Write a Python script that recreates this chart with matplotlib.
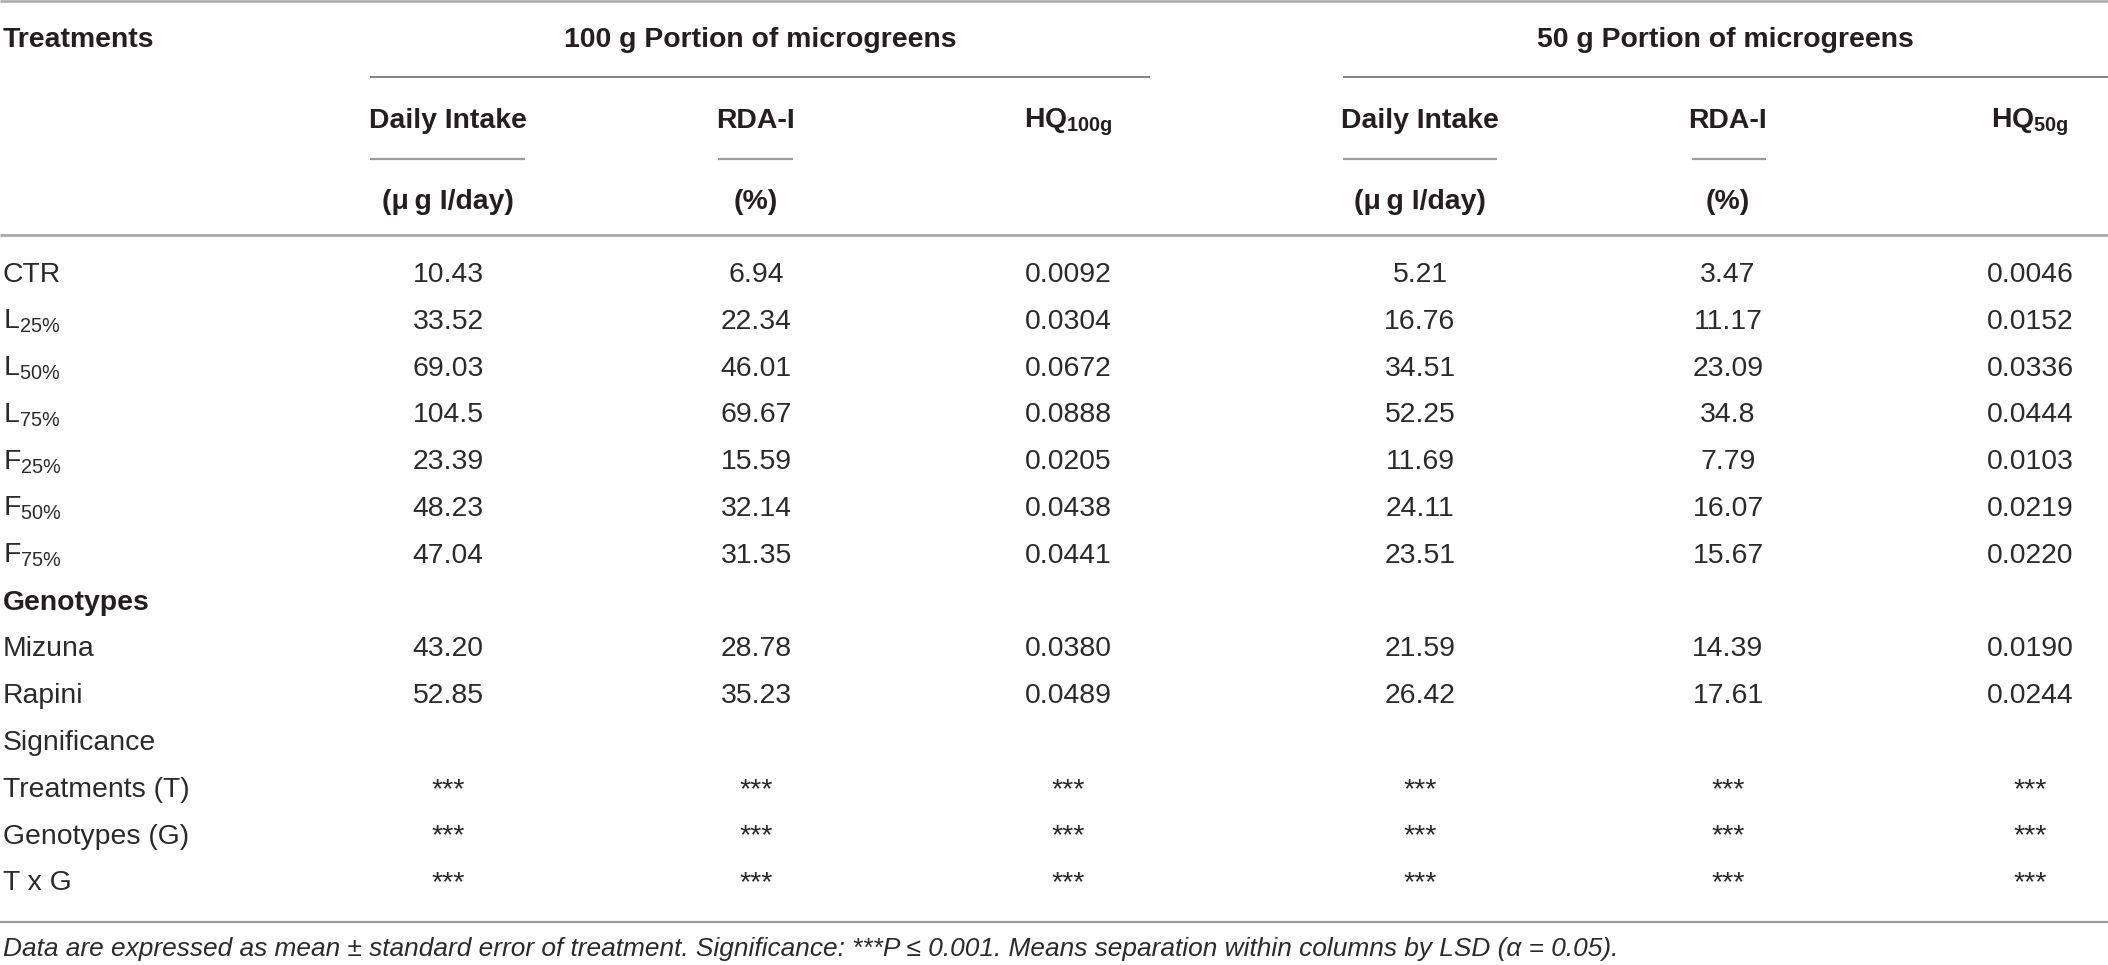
import matplotlib
matplotlib.use("Agg")
import matplotlib.pyplot as plt

plt.rcParams['font.family'] = ['Liberation Sans', 'DejaVu Sans']
plt.rcParams['mathtext.fontset'] = 'custom'
plt.rcParams['mathtext.rm'] = 'Liberation Sans'
plt.rcParams['mathtext.it'] = 'Liberation Sans:italic'
plt.rcParams['mathtext.bf'] = 'Liberation Sans:bold'

# ---------------- data ----------------
group_headers = ["100 g Portion of microgreens", "50 g Portion of microgreens"]
col_headers = ["Daily Intake", "RDA-I", r"HQ$_{\mathbf{100g}}$",
               "Daily Intake", "RDA-I", r"HQ$_{\mathbf{50g}}$"]
unit_headers = ["(\u03bc\u2009g I/day)", "(%)", "", "(\u03bc\u2009g I/day)", "(%)", ""]

treatments = ["CTR", r"L$_{\mathrm{25\%}}$", r"L$_{\mathrm{50\%}}$", r"L$_{\mathrm{75\%}}$",
              r"F$_{\mathrm{25\%}}$", r"F$_{\mathrm{50\%}}$", r"F$_{\mathrm{75\%}}$"]
daily_100 = ["10.43", "33.52", "69.03", "104.5", "23.39", "48.23", "47.04"]
rda_100 = ["6.94", "22.34", "46.01", "69.67", "15.59", "32.14", "31.35"]
hq_100 = ["0.0092", "0.0304", "0.0672", "0.0888", "0.0205", "0.0438", "0.0441"]
daily_50 = ["5.21", "16.76", "34.51", "52.25", "11.69", "24.11", "23.51"]
rda_50 = ["3.47", "11.17", "23.09", "34.8", "7.79", "16.07", "15.67"]
hq_50 = ["0.0046", "0.0152", "0.0336", "0.0444", "0.0103", "0.0219", "0.0220"]

genotypes = ["Mizuna", "Rapini"]
geno_daily_100 = ["43.20", "52.85"]
geno_rda_100 = ["28.78", "35.23"]
geno_hq_100 = ["0.0380", "0.0489"]
geno_daily_50 = ["21.59", "26.42"]
geno_rda_50 = ["14.39", "17.61"]
geno_hq_50 = ["0.0190", "0.0244"]

sig_sources = ["Treatments (T)", "Genotypes (G)", "T x G"]
sig_marks = ["***", "***", "***"]

footnote = ("Data are expressed as mean \u00b1 standard error of treatment. "
            "Significance: ***P \u2264 0.001. Means separation within columns by LSD (\u03b1 = 0.05).")

# ---------------- layout ----------------
W, H = 2108, 965
fig = plt.figure(figsize=(W / 100, H / 100), dpi=100)
ax = fig.add_axes([0, 0, 1, 1])
ax.set_xlim(0, W)
ax.set_ylim(H, 0)
ax.axis("off")

TXT = "#231f20"
BODY = "#2a2a2a"
FS = 20.4
FS_NOTE = 18.9
col_x = [448, 756, 1068, 1420, 1728, 2030]
label_x = 3

# rules
def hline(y, x0, x1, color, lw):
    ax.plot([x0, x1], [y, y], color=color, lw=lw, solid_capstyle="butt")

hline(1.2, 0, W, "#a8a8a8", 1.8)
hline(77, 370, 1150, "#6e6e6e", 1.2)
hline(77, 1343, W, "#6e6e6e", 1.2)
for x0, x1 in [(370, 525), (718, 793), (1343, 1497), (1692, 1766)]:
    hline(159, x0, x1, "#9c9c9c", 1.6)
hline(235, 0, W, "#a8a8a8", 2.0)
hline(922, 0, W, "#9a9a9a", 1.6)

# headers
ax.text(label_x, 47, "Treatments", fontsize=FS, fontweight="bold", color=TXT,
        ha="left", va="baseline")
ax.text(760, 47, group_headers[0], fontsize=FS, fontweight="bold", color=TXT,
        ha="center", va="baseline")
ax.text(1725, 47, group_headers[1], fontsize=FS, fontweight="bold", color=TXT,
        ha="center", va="baseline")
for x, h, u in zip(col_x, col_headers, unit_headers):
    ax.text(x, 128, h, fontsize=FS, fontweight="bold", color=TXT,
            ha="center", va="baseline")
    if u:
        ax.text(x, 209, u, fontsize=FS, fontweight="bold", color=TXT,
                ha="center", va="baseline")

# body rows
y0, dy = 282, 46.8
rows = []
for i, t in enumerate(treatments):
    rows.append((t, "normal", [daily_100[i], rda_100[i], hq_100[i],
                               daily_50[i], rda_50[i], hq_50[i]]))
rows.append(("Genotypes", "bold", []))
for i, g in enumerate(genotypes):
    rows.append((g, "normal", [geno_daily_100[i], geno_rda_100[i], geno_hq_100[i],
                               geno_daily_50[i], geno_rda_50[i], geno_hq_50[i]]))
rows.append(("Significance", "normal", []))
for s, m in zip(sig_sources, sig_marks):
    rows.append((s, "normal", [m] * 6))

for r, (lab, wt, vals) in enumerate(rows):
    y = y0 + r * dy
    ax.text(label_x, y, lab, fontsize=FS, fontweight=wt,
            color=TXT if wt == "bold" else BODY, ha="left", va="baseline")
    for x, v in zip(col_x, vals):
        ax.text(x, y, v, fontsize=FS, color=BODY, ha="center", va="baseline")

# footnote
ax.text(label_x, 956, footnote, fontsize=FS_NOTE, fontstyle="italic", color=BODY,
        ha="left", va="baseline")

fig.savefig("out.png", dpi=100)
